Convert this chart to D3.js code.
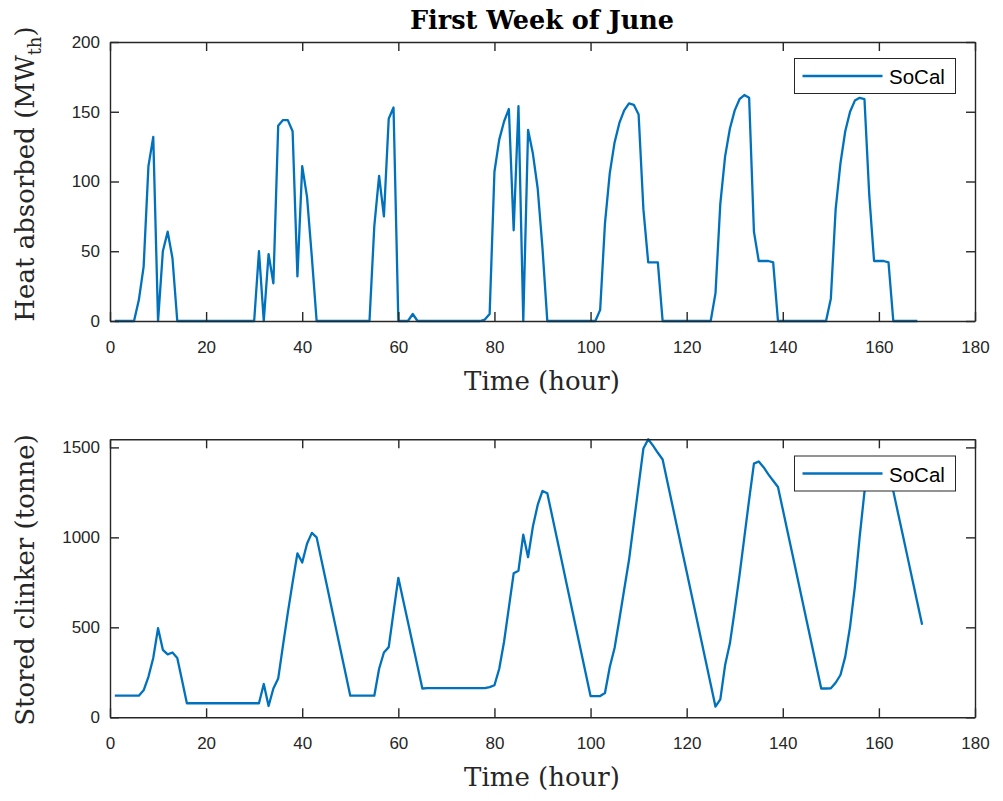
<!DOCTYPE html>
<html>
<head>
<meta charset="utf-8">
<script src="https://cdn.jsdelivr.net/npm/d3@7"></script>
<style>
  body { margin: 0; background: #fff; }
</style>
</head>
<body>
<div id="chart"></div>
<script>
// Hourly heat absorbed (MWth), hours 1..168, one row per day
const heat = [
  0, 0, 0, 0, 0, 15, 39, 111, 132, 0, 50, 64, 45, 0, 0, 0, 0, 0, 0, 0, 0, 0, 0, 0,
  0, 0, 0, 0, 0, 0, 50, 0, 48, 27, 140, 144, 144, 136, 32, 111, 89, 46, 0, 0, 0, 0, 0, 0,
  0, 0, 0, 0, 0, 0, 68, 104, 75, 145, 153, 0, 0, 0, 5, 0, 0, 0, 0, 0, 0, 0, 0, 0,
  0, 0, 0, 0, 0, 1, 5, 107, 130, 143, 152, 65, 154, 0, 137, 120, 95, 52, 0, 0, 0, 0, 0, 0,
  0, 0, 0, 0, 0, 8, 70, 106, 128, 142, 151, 156, 155, 148, 80, 42, 42, 42, 0, 0, 0, 0, 0, 0,
  0, 0, 0, 0, 0, 20, 84, 118, 138, 151, 159, 162, 160, 64, 43, 43, 43, 42, 0, 0, 0, 0, 0, 0,
  0, 0, 0, 0, 0, 16, 80, 113, 136, 150, 158, 160, 159, 90, 43, 43, 43, 42, 0, 0, 0, 0, 0, 0
];

// Hourly stored clinker (tonne), hours 1..169
const clinker = [
  120, 120, 120, 120, 120, 120, 150, 225, 330, 495, 375, 350, 360, 330, 205, 78, 78, 78, 78, 78, 78, 78, 78, 78,
  78, 78, 78, 78, 78, 78, 78, 185, 63, 160, 215, 400, 580, 750, 911, 860, 965, 1025, 1000, 874, 749, 623, 497, 371,
  246, 120, 120, 120, 120, 120, 120, 270, 360, 390, 585, 775, 652, 529, 406, 283, 160, 162, 162, 162, 162, 162, 162, 162,
  162, 162, 162, 162, 162, 162, 168, 178, 270, 420, 610, 800, 815, 1015, 890, 1060, 1180, 1258, 1245, 1120, 995, 870, 744, 619,
  494, 369, 244, 118, 118, 118, 135, 280, 385, 545, 710, 874, 1080, 1287, 1494, 1545, 1510, 1470, 1433, 1308, 1183, 1058, 933, 809,
  684, 559, 434, 309, 184, 59, 100, 290, 411, 596, 790, 1000, 1210, 1410, 1422, 1390, 1350, 1315, 1280, 1156, 1031, 907, 782, 658,
  533, 409, 284, 160, 160, 161, 192, 235, 337, 503, 725, 1003, 1253, 1400, 1430, 1410, 1370, 1315, 1257, 1133, 1010, 886, 762, 638, 515
];

const xTicks = [0, 20, 40, 60, 80, 100, 120, 140, 160, 180];
const heatTicks = [0, 50, 100, 150, 200];
const clinkerTicks = [0, 500, 1000, 1500];
const seriesName = "SoCal";

const W = 1003, H = 801;
const left = 110, right = 975;
const axisColor = "#262626";
const lineColor = "#0072BD";
const tickFont = "'Liberation Sans', Arial, sans-serif";
const labelFont = "'DejaVu Serif', serif";

const svg = d3.select("#chart")
  .append("svg")
  .attr("width", W)
  .attr("height", H);

// Title
svg.append("text")
  .attr("x", 542)
  .attr("y", 29)
  .style("text-anchor", "middle")
  .style("font-family", labelFont)
  .style("font-weight", "bold")
  .style("font-size", "25.5px")
  .style("fill", "#000")
  .text("First Week of June");

const x = d3.scaleLinear().domain([0, 180]).range([left, right]);

function panel(top, bottom, values, yMax, yTicks, legendTop, labelFn, labelCy) {
  const y = d3.scaleLinear().domain([0, yMax]).range([bottom, top]);
  const g = svg.append("g");

  // data line
  g.append("path")
    .datum(values)
    .attr("fill", "none")
    .attr("stroke", lineColor)
    .attr("stroke-width", 2.3)
    .attr("stroke-linejoin", "round")
    .attr("d", d3.line().x((d, i) => x(i + 1)).y(d => y(d)));

  // axes (ticks pointing inward, box on all sides)
  const styleAxis = sel => {
    sel.selectAll(".domain").attr("stroke", axisColor).attr("stroke-width", 1.4);
    sel.selectAll(".tick line").attr("stroke", axisColor).attr("stroke-width", 1.4);
    sel.selectAll("text")
      .style("font-family", tickFont)
      .style("font-size", "17px")
      .attr("fill", axisColor);
  };

  g.append("g")
    .attr("transform", `translate(0,${bottom})`)
    .call(d3.axisBottom(x).tickValues(xTicks).tickFormat(d3.format("d"))
      .tickSizeInner(-9).tickSizeOuter(0).tickPadding(20))
    .call(styleAxis);

  g.append("g")
    .attr("transform", `translate(0,${top})`)
    .call(d3.axisTop(x).tickValues(xTicks).tickSizeInner(-9).tickSizeOuter(0).tickFormat(""))
    .call(styleAxis);

  g.append("g")
    .attr("transform", `translate(${left},0)`)
    .call(d3.axisLeft(y).tickValues(yTicks).tickFormat(d3.format("d"))
      .tickSizeInner(-9).tickSizeOuter(0).tickPadding(10))
    .call(styleAxis);

  g.append("g")
    .attr("transform", `translate(${right},0)`)
    .call(d3.axisRight(y).tickValues(yTicks).tickSizeInner(-9).tickSizeOuter(0).tickFormat(""))
    .call(styleAxis);

  // x label
  g.append("text")
    .attr("x", 542)
    .attr("y", bottom + 69)
    .style("text-anchor", "middle")
    .style("font-family", labelFont)
    .style("font-size", "26px")
    .style("fill", axisColor)
    .text("Time (hour)");

  // y label
  const yl = g.append("text")
    .attr("transform", `translate(34,${labelCy}) rotate(-90)`)
    .style("text-anchor", "middle")
    .style("font-family", labelFont)
    .style("font-size", "26px")
    .style("fill", axisColor);
  labelFn(yl);

  // legend
  const lg = g.append("g").attr("transform", `translate(794.5,${legendTop})`);
  lg.append("rect")
    .attr("width", 161)
    .attr("height", 35)
    .attr("fill", "#fff")
    .attr("stroke", axisColor)
    .attr("stroke-width", 1);
  lg.append("line")
    .attr("x1", 8).attr("x2", 88)
    .attr("y1", 17.5).attr("y2", 17.5)
    .attr("stroke", lineColor)
    .attr("stroke-width", 2.3);
  lg.append("text")
    .attr("x", 94.5)
    .attr("y", 25.5)
    .style("font-family", tickFont)
    .style("font-size", "20.5px")
    .style("fill", "#000")
    .text(seriesName);
}

panel(42, 321, heat, 200, heatTicks, 58.5, t => {
  t.append("tspan").text("Heat absorbed (MW");
  t.append("tspan").attr("dy", 7).style("font-size", "18px").text("th");
  t.append("tspan").attr("dy", -7).text(")");
}, 174);

panel(439.3, 717.3, clinker, 1545, clinkerTicks, 456, t => {
  t.text("Stored clinker (tonne)");
}, 580);
</script>
</body>
</html>
